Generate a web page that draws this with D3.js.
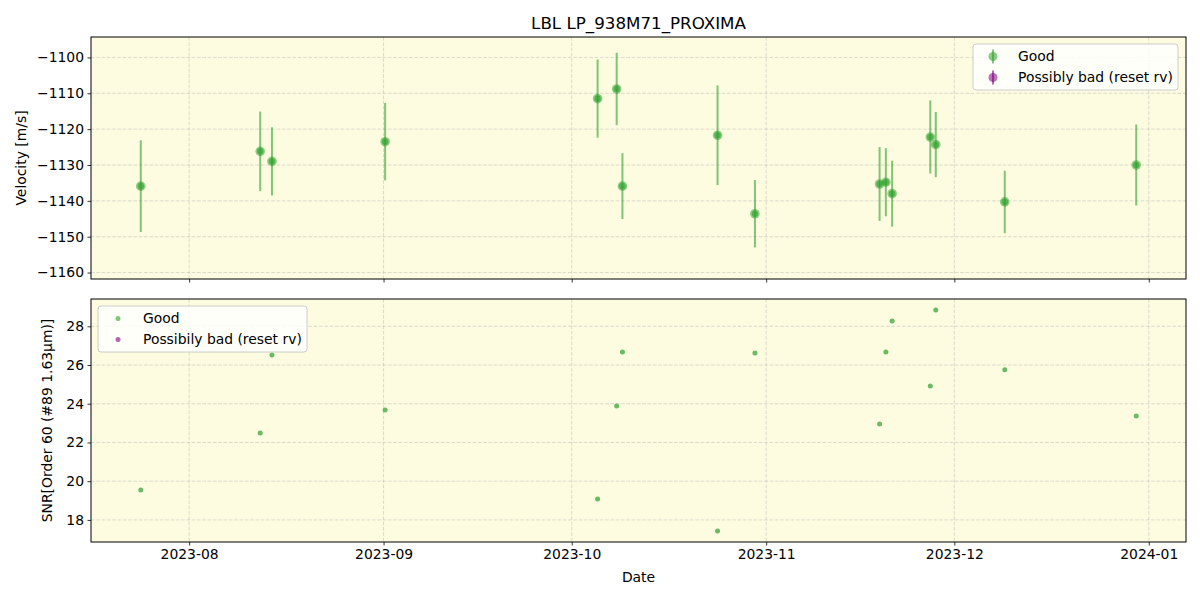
<!DOCTYPE html>
<html><head><meta charset="utf-8">
<script src="https://cdn.jsdelivr.net/npm/d3@7"></script>
<style>
body{margin:0;background:#fff;}
text{font-family:"DejaVu Sans",sans-serif;fill:#000;}
</style></head>
<body><svg id="c" width="1200" height="600"></svg>
<script>
const dates = ["2023-07-24T07:00","2023-08-12T08:00","2023-08-14T05:00","2023-09-01T06:00",
  "2023-10-05T03:00","2023-10-08T04:00","2023-10-09T02:00","2023-10-24T06:00",
  "2023-10-30T05:00","2023-11-19T02:00","2023-11-20T02:00","2023-11-21T02:00",
  "2023-11-27T04:00","2023-11-28T01:00","2023-12-09T01:00","2023-12-30T00:00"];
const velocity = [-1135.9,-1126.2,-1129.0,-1123.5,-1111.5,-1108.8,-1135.9,-1121.7,
  -1143.6,-1135.3,-1134.8,-1138.0,-1122.2,-1124.3,-1140.3,-1130.0];
const velErr = [12.8,11.1,9.5,10.8,10.9,10.1,9.2,13.9,9.4,10.3,9.5,9.2,10.2,9.1,8.7,11.3];
const snr = [19.55,22.49,26.52,23.68,19.08,23.89,26.67,17.43,26.62,22.96,26.67,28.28,24.92,28.84,25.75,23.37];
const velTicks = [-1160,-1150,-1140,-1130,-1120,-1110,-1100];
const snrTicks = [18,20,22,24,26,28];
const xTickLabels = ["2023-08","2023-09","2023-10","2023-11","2023-12","2024-01"];
const legendLabelsTop = ["Good","Possibly bad (reset rv)"];
const legendLabelsBottom = ["Good","Possibily bad (reset rv)"];
const velDomain = [-1161.8,-1094.3];

const GREEN = "#2ca02c", PURPLE = "#800080";
const svg = d3.select("#c");
const L = 91, R = 1186;
const top1 = 37, bot1 = 279, top2 = 299, bot2 = 542;
const parse = d3.isoParse;
const dd = dates.map(parse);
const ext = d3.extent(dd);
const span = ext[1] - ext[0];
const x = d3.scaleTime().domain([new Date(+ext[0] - 0.05*span), new Date(+ext[1] + 0.05*span)]).range([L, R]);
const y1 = d3.scaleLinear().domain(velDomain).range([bot1, top1]);
const se = d3.extent(snr), sr = se[1]-se[0];
const y2 = d3.scaleLinear().domain([se[0]-0.05*sr, se[1]+0.05*sr]).range([bot2, top2]);
const xTicks = xTickLabels.map(s => parse(s + "-01"));

function panel(y, t, b, yt, fmt){
  const g = svg.append("g");
  g.append("rect").attr("x", L).attr("y", t).attr("width", R-L).attr("height", b-t).attr("fill", "#fdfce0");
  g.selectAll(".gx").data(xTicks).join("line").attr("x1", d=>x(d)).attr("x2", d=>x(d)).attr("y1", t).attr("y2", b)
    .attr("stroke", "#b0b0b0").attr("stroke-opacity", 0.55).attr("stroke-width", 0.8).attr("stroke-dasharray", "3.7,1.6");
  g.selectAll(".gy").data(yt).join("line").attr("x1", L).attr("x2", R).attr("y1", d=>y(d)).attr("y2", d=>y(d))
    .attr("stroke", "#b0b0b0").attr("stroke-opacity", 0.55).attr("stroke-width", 0.8).attr("stroke-dasharray", "3.7,1.6");
  const ya = g.append("g").attr("transform", `translate(${L},0)`).call(d3.axisLeft(y).tickValues(yt).tickFormat(fmt).tickSizeInner(3.5).tickSizeOuter(0).tickPadding(3.5));
  ya.select(".domain").remove();
  ya.selectAll("text").style("font-family", "DejaVu Sans").style("font-size", "13.9px").attr("fill", "#000");
  ya.selectAll("line").attr("stroke", "#000").attr("stroke-width", 0.8);
  const xa = g.append("g").attr("transform", `translate(0,${b})`).call(d3.axisBottom(x).tickValues(xTicks).tickFormat(d3.timeFormat("%Y-%m")).tickSizeInner(3.5).tickSizeOuter(0).tickPadding(3.5));
  xa.select(".domain").remove();
  xa.selectAll("text").style("font-family", "DejaVu Sans").style("font-size", "13.9px").attr("fill", "#000");
  xa.selectAll("line").attr("stroke", "#000").attr("stroke-width", 0.8);
  return {g, xa};
}

const p1 = panel(y1, top1, bot1, velTicks, d3.format("d"));
p1.xa.selectAll("text").remove();
const p2 = panel(y2, top2, bot2, snrTicks, d3.format("d"));

const eb = p1.g.append("g");
dd.forEach((d,i)=>{
  eb.append("line").attr("x1", x(d)).attr("x2", x(d)).attr("y1", y1(velocity[i]-velErr[i])).attr("y2", y1(velocity[i]+velErr[i]))
    .attr("stroke", GREEN).attr("stroke-opacity", 0.6).attr("stroke-width", 2);
});
dd.forEach((d,i)=>{
  eb.append("circle").attr("cx", x(d)).attr("cy", y1(velocity[i])).attr("r", 4.8)
    .attr("fill", GREEN).attr("fill-opacity", 0.5);
  eb.append("circle").attr("cx", x(d)).attr("cy", y1(velocity[i])).attr("r", 3.3)
    .attr("fill", GREEN).attr("fill-opacity", 0.6);
});
p2.g.append("g").selectAll("circle").data(dd).join("circle").attr("cx", d=>x(d)).attr("cy", (d,i)=>y2(snr[i])).attr("r", 2.5)
  .attr("fill", GREEN).attr("fill-opacity", 0.7);

[[top1,bot1],[top2,bot2]].forEach(([t,b])=>{
  svg.append("rect").attr("x", L).attr("y", t).attr("width", R-L).attr("height", b-t).attr("fill","none").attr("stroke","#000").attr("stroke-width",1);
});

function legend(x0, y0, w, labels, err){
  const g = svg.append("g");
  g.append("rect").attr("x", x0).attr("y", y0).attr("width", w).attr("height", 46).attr("rx", 3)
    .attr("fill", "#fff").attr("fill-opacity", 0.8).attr("stroke", "#cccccc").attr("stroke-width", 1);
  labels.forEach((lab,i)=>{
    const cy = y0 + 12.5 + i*21, cx = x0 + 20;
    const col = i===0 ? GREEN : PURPLE;
    if (err){
      g.append("line").attr("x1", cx).attr("x2", cx).attr("y1", cy-7).attr("y2", cy+7).attr("stroke", col).attr("stroke-opacity", 0.6).attr("stroke-width", 2);
      g.append("circle").attr("cx", cx).attr("cy", cy).attr("r", 4.5).attr("fill", col).attr("fill-opacity", 0.55);
    } else {
      g.append("circle").attr("cx", cx).attr("cy", cy).attr("r", 2.5).attr("fill", col).attr("fill-opacity", 0.6);
    }
    g.append("text").attr("x", x0 + 45).attr("y", cy).attr("dy", "0.35em").style("font-size", "13.9px").text(lab);
  });
}
legend(973, 44, 205, legendLabelsTop, true);
legend(98, 306, 209, legendLabelsBottom, false);

svg.append("text").attr("x", (L+R)/2).attr("y", 23).attr("dy", "0.35em").attr("text-anchor", "middle").style("font-size", "16.7px").text("LBL LP_938M71_PROXIMA");
svg.append("text").attr("x", (L+R)/2).attr("y", 577).attr("dy", "0.35em").attr("text-anchor", "middle").style("font-size", "13.9px").text("Date");
svg.append("text").attr("transform", `translate(21,${(top1+bot1)/2}) rotate(-90)`).attr("dy", "0.35em").attr("text-anchor", "middle").style("font-size", "13.9px").text("Velocity [m/s]");
svg.append("text").attr("transform", `translate(47,${(top2+bot2)/2}) rotate(-90)`).attr("dy", "0.35em").attr("text-anchor", "middle").style("font-size", "13.9px").text("SNR[Order 60 (#89 1.63μm)]");
</script></body></html>
